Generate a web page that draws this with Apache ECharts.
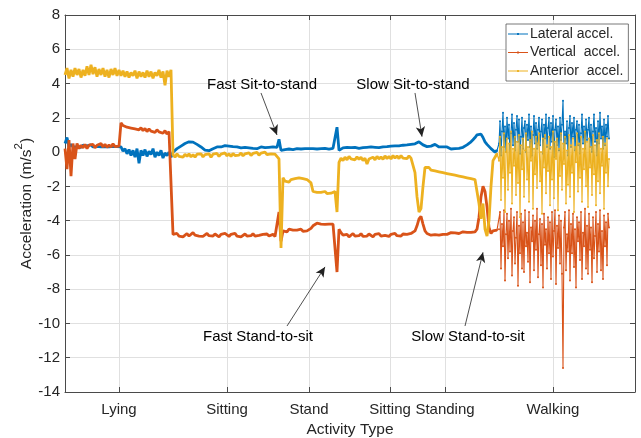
<!DOCTYPE html>
<html><head><meta charset="utf-8">
<script src="https://cdn.jsdelivr.net/npm/echarts@6/dist/echarts.min.js"></script>
<style>html,body{margin:0;padding:0;background:#fff}#c{width:641px;height:438px}</style>
</head><body><div id="c"></div>
<script>
// ---- categories / ticks ----
const activityLabels = ['Lying','Sitting','Stand','Sitting','Standing','Walking'];
const activityTicks = [54, 162, 244, 325, 380, 488];
const yMin = -14, yMax = 8, yInterval = 2;
const seriesNames = ['Lateral accel.', 'Vertical  accel.', 'Anterior  accel.'];
const seriesColors = ['#0072BD', '#D95319', '#EDB120'];

// sample positions: calm part every 2 samples from 0, walking every sample from 434
const calmStep = 2, walkStart = 434, walkStep = 1;

// ---- Lateral accel. ----
const lateralCalm = [
 0.5,0.85,0.3,0.45,0.3,0.4,0.3,0.38,0.28,0.4,0.32,0.36,0.3,0.42,0.3,0.38,0.33,0.4,0.3,0.37,0.32,0.4,0.3,0.38,0.34,0.4,0.32,0.38,
 0.3,0.05,0.2,-0.1,0.15,-0.2,0.1,-0.3,0.2,-0.65,0.1,-0.2,0.15,-0.25,0.05,-0.15,0.2,-0.3,0.0,-0.2,0.1,-0.35,-0.05,-0.2,0.0,-0.3,
 0.0,0.1,0.2,0.3,0.35,0.45,0.5,0.55,0.6,0.62,0.58,0.55,0.45,0.4,0.3,0.2,0.12,0.05,0.08,0.15,
 0.2,0.28,0.3,0.25,0.3,0.35,0.38,0.3,0.35,0.4,0.32,0.36,0.3,0.34,0.25,0.22,0.28,0.2,0.25,0.18,
 0.22,0.28,0.2,0.24,0.3,0.22,0.26,0.2,0.28,0.22,0.3,0.24,0.28,0.75,
 0.1,0.2,0.15,0.25,0.18,0.22,0.15,0.25,0.2,0.28,0.18,0.24,0.2,0.26,0.2,0.25,
 0.2,0.26,0.18,0.25,0.2,0.27,0.22,0.25,0.18,0.26,0.22,0.2,
 1.45,
 0.1,0.2,0.25,0.2,0.28,0.22,0.26,0.2,0.28,0.3,0.22,0.3,0.26,0.2,0.28,0.25,0.3,0.22,0.28,0.32,
 0.26,0.35,0.3,0.38,0.32,0.4,0.35,0.42,0.36,0.3,0.36,0.32,0.4,0.35,0.42,0.38,0.45,0.4,0.48,0.5,
 0.6,0.5,0.42,0.35,0.32,
 0.3,0.35,0.4,0.45,0.38,0.3,0.35,0.3,0.25,0.3,0.22,0.18,0.25,0.2,0.15,0.22,0.2,0.28,0.35,0.42,0.5,0.6,0.72,0.85,1.0,
 1.1,1.05,0.85,0.6,0.45,0.35,0.2,0.1,
 0.0,0.1
];
const lateralWalk = [
 0.5,1.8,-0.2,1.2,2.3,0.3,1.5,0.0,2.0,0.8,
 1.6,-0.3,1.1,2.2,0.4,1.7,0.1,1.3,2.1,0.6,
 1.9,-0.1,0.9,2.0,0.2,1.4,1.8,0.0,1.6,0.7,
 2.2,0.3,1.5,-0.2,1.0,2.1,0.5,1.7,0.2,1.3,
 2.0,0.4,1.2,1.9,-0.1,1.6,0.8,2.2,0.3,1.4,
 2.0,0.2,1.7,0.6,2.1,-0.3,1.3,1.9,0.4,1.5,
 0.1,2.0,0.7,1.6,3.0,0.2,1.2,0.5,1.8,-0.2,
 1.4,2.1,0.3,1.7,0.9,2.0,0.1,1.3,1.8,0.4,
 1.6,-0.1,1.1,2.2,0.5,1.5,0.2,1.9,0.7,1.3,
 2.0,0.3,1.6,0.0,1.2,2.2,0.6,1.4,-0.2,1.8,
 0.5,2.3,0.8,1.5,0.2,1.9,0.4,1.6,0.9,2.1,
 0.8
];

// ---- Vertical accel. ----
const verticalCalm = [
 0.2,-1.0,0.7,-1.4,0.5,-0.4,0.5,0.2,0.4,0.25,0.45,0.2,0.4,0.3,0.45,0.25,0.4,0.3,0.5,0.3,0.45,0.28,0.42,0.3,0.48,0.32,0.4,0.35,
 1.7,1.55,1.65,1.45,1.55,1.4,1.5,1.35,1.45,1.3,1.42,1.25,1.38,1.2,1.35,1.22,1.32,1.15,1.3,1.18,1.28,1.1,1.25,1.05,1.2,1.1,
 -4.8,-4.9,-4.75,-4.9,-4.8,-4.95,-4.85,-4.75,-4.9,-4.8,-4.7,-4.85,-4.75,-4.9,-4.8,-4.92,-4.82,-4.75,-4.88,-4.8,
 -4.9,-4.78,-4.86,-4.95,-4.8,-4.88,-4.75,-4.85,-4.92,-4.8,-4.86,-4.74,-4.9,-4.82,-4.95,-4.85,-4.78,-4.9,-4.82,-4.88,
 -4.76,-4.9,-4.8,-4.86,-4.95,-4.8,-4.88,-4.78,-4.9,-4.84,-4.8,-4.92,-4.85,-3.5,
 -5.2,-4.6,-4.55,-4.65,-4.5,-4.6,-4.55,-4.65,-4.55,-4.6,-4.5,-4.62,-4.55,-4.6,-4.5,-4.45,
 -4.3,-4.2,-4.15,-4.25,-4.2,-4.1,-4.22,-4.15,-4.2,-4.12,-4.2,-4.25,
 -7.0,
 -4.5,-4.7,-4.85,-4.9,-4.8,-4.95,-4.85,-4.75,-4.9,-4.8,-4.88,-4.76,-4.92,-4.82,-4.9,-4.78,-4.85,-4.95,-4.8,-4.88,
 -4.76,-4.9,-4.82,-4.86,-4.78,-4.92,-4.8,-4.85,-4.75,-4.88,-4.8,-4.9,-4.78,-4.85,-4.8,-4.88,-4.75,-4.8,-4.6,-4.3,
 -3.9,-3.75,-4.2,-4.6,-4.75,
 -4.8,-4.85,-4.75,-4.82,-4.78,-4.85,-4.75,-4.8,-4.72,-4.8,-4.75,-4.7,-4.78,-4.72,-4.68,-4.75,-4.7,-4.65,-4.72,-4.68,-4.62,-4.68,-4.6,-4.65,-4.5,
 -3.8,-2.6,-2.0,-2.3,-3.2,-4.4,-4.75,-4.6,
 -4.5,-4.55
];
const verticalWalk = [
 -4.5,-3.5,-6.8,-4.2,-5.5,-3.4,-7.5,-4.8,-3.6,-6.2,
 -4.0,-5.8,-3.3,-7.2,-4.6,-3.8,-6.5,-5.0,-3.5,-7.8,
 -4.3,-5.9,-3.6,-6.8,-4.1,-7.0,-3.4,-5.5,-4.7,-6.4,
 -3.5,-7.6,-4.4,-5.2,-3.7,-6.9,-4.0,-5.7,-3.3,-7.3,
 -4.8,-3.9,-6.6,-4.2,-7.9,-3.6,-5.4,-4.5,-6.8,-3.8,
 -5.9,-4.1,-7.4,-3.5,-6.1,-4.6,-3.4,-7.7,-4.3,-5.6,
 -3.7,-6.5,-4.0,-7.1,-12.6,-4.4,-3.5,-6.9,-4.8,-5.8,
 -3.4,-7.5,-4.2,-5.9,-3.6,-6.7,-4.5,-7.9,-3.8,-5.2,
 -4.1,-6.3,-3.5,-7.4,-4.7,-5.5,-3.3,-6.8,-4.3,-7.1,
 -3.6,-5.7,-4.4,-7.6,-3.8,-6.2,-4.9,-3.5,-7.0,-4.2,
 -5.8,-3.4,-6.9,-4.6,-7.4,-3.7,-5.5,-4.1,-6.6,-3.6,
 -4.4
];

// ---- Anterior accel. ----
const anteriorCalm = [
 4.5,4.9,4.3,4.8,4.4,4.9,4.5,4.85,4.35,4.8,4.45,5.0,4.5,5.1,4.55,4.95,4.4,4.85,4.5,4.9,4.4,4.8,4.35,4.85,4.5,4.9,4.45,4.8,
 4.45,4.75,4.4,4.7,4.35,4.65,4.45,4.75,4.3,4.7,4.4,4.65,4.35,4.75,4.4,4.7,4.3,4.65,4.45,4.8,4.35,4.7,3.9,4.75,4.4,4.8,
 -0.15,-0.3,-0.1,-0.25,-0.15,-0.3,-0.12,-0.25,-0.1,-0.28,-0.15,-0.3,-0.12,-0.22,-0.1,-0.28,-0.15,-0.25,-0.1,-0.3,
 -0.12,-0.22,-0.08,-0.25,-0.12,-0.2,-0.05,-0.22,-0.1,-0.25,-0.08,-0.2,-0.12,-0.18,-0.05,-0.22,-0.1,-0.18,-0.04,-0.2,
 -0.08,-0.15,-0.02,-0.18,-0.06,-0.12,0.0,-0.15,-0.05,-0.1,0.0,-0.12,-0.05,-0.4,
 -5.6,-1.5,-1.7,-1.6,-1.75,-1.6,-1.7,-1.55,-1.65,-1.5,-1.45,-1.55,-1.5,-1.6,-1.7,-1.8,
 -2.3,-2.4,-2.35,-2.45,-2.35,-2.4,-2.3,-2.42,-2.35,-2.4,-2.38,-2.3,
 -3.5,
 -0.6,-0.35,-0.5,-0.3,-0.45,-0.25,-0.4,-0.3,-0.45,-0.28,-0.42,-0.3,-0.5,-0.35,-0.7,-0.4,-0.5,-0.3,-0.45,-0.25,
 -0.4,-0.28,-0.42,-0.22,-0.38,-0.25,-0.4,-0.2,-0.35,-0.22,-0.38,-0.2,-0.35,-0.25,-0.38,-0.22,-0.35,-0.4,-1.2,-2.6,
 -3.5,-3.3,-2.0,-0.9,-0.8,
 -0.9,-1.05,-0.95,-1.1,-1.0,-1.15,-1.05,-1.2,-1.1,-1.25,-1.15,-1.3,-1.2,-1.35,-1.25,-1.4,-1.3,-1.45,-1.35,-1.5,-1.4,-1.55,-1.45,-1.6,-1.7,
 -3.0,-3.9,-3.0,-4.5,-4.9,-4.0,-2.0,-0.5,
 -0.3,-0.1
];
const anteriorWalk = [
 -0.5,0.9,-2.8,0.3,-1.5,1.1,-3.5,0.0,0.8,-2.2,
 0.5,-1.2,1.2,-3.0,0.2,-0.8,0.9,-2.5,0.6,-1.8,
 1.0,-3.8,0.4,-1.0,0.8,-2.6,0.1,1.1,-1.6,0.3,
 -2.9,0.7,-0.5,1.2,-3.3,0.2,-1.3,0.9,-2.1,0.5,
 1.1,-1.7,0.0,-3.6,0.8,-0.9,1.0,-2.4,0.4,-1.1,
 0.9,-3.1,0.3,-1.6,1.2,-2.7,0.6,-0.4,0.8,-3.4,
 0.2,-1.4,1.1,-2.2,0.5,-0.7,0.9,-3.0,0.1,-1.9,
 1.0,-2.6,0.4,-1.2,0.8,-3.5,0.3,-0.6,1.1,-2.3,
 0.5,-1.5,0.9,-2.9,0.2,-1.0,1.2,-2.0,0.6,-3.2,
 0.8,-0.9,0.3,-2.5,1.0,-1.3,0.4,-3.1,0.7,-1.7,
 1.1,-2.4,0.2,-0.8,0.9,-3.3,0.5,-1.2,0.8,-2.0,
 -0.4
];

// ---- annotations (data coordinates) ----
const annotations = [
  { text: 'Fast Sit-to-stand', at: [197, 3.95],  from: [196, 3.45],  to: [212, 1.0] },
  { text: 'Slow Sit-to-stand', at: [348, 3.95],  from: [350, 3.45],  to: [357, 0.9] },
  { text: 'Fast Stand-to-sit', at: [193, -10.8], from: [222, -10.15], to: [260, -6.7] },
  { text: 'Slow Stand-to-sit', at: [403, -10.8], from: [400, -10.15], to: [418, -5.85] }
];

function buildCalm(calm) { return calm.map((v, i) => [i * calmStep, v]); }
function buildWalk(calm, walk) {
  const d = [[(calm.length - 1) * calmStep, calm[calm.length - 1]]];
  walk.forEach((v, j) => d.push([walkStart + j * walkStep, v]));
  return d;
}
const calmSets = [lateralCalm, verticalCalm, anteriorCalm];
const walkSets = [lateralWalk, verticalWalk, anteriorWalk];

const FONT = '"Liberation Sans", Arial, sans-serif';
const axisCol = '#4a4a4a', gridCol = '#e0e0e0', textCol = '#262626';

const chart = echarts.init(document.getElementById('c'), null, { renderer: 'canvas' });

const series = [];
for (let k = 0; k < 3; k++) {
  series.push({
    name: seriesNames[k], type: 'line', data: buildCalm(calmSets[k]),
    symbol: 'circle', symbolSize: 2, showSymbol: false,
    lineStyle: { width: 2.8, color: seriesColors[k] },
    itemStyle: { color: seriesColors[k] },
    emphasis: { disabled: true }, silent: true, animation: false, z: 2 + k
  });
}
for (let k = 0; k < 3; k++) {
  series.push({
    name: seriesNames[k], type: 'line', data: buildWalk(calmSets[k], walkSets[k]),
    symbol: 'circle', symbolSize: 2, showSymbol: true,
    lineStyle: { width: 1.1, color: seriesColors[k] },
    itemStyle: { color: seriesColors[k] },
    emphasis: { disabled: true }, silent: true, animation: false, z: 2 + k
  });
}
series.push({
  name: 'arrows', type: 'line', data: [], silent: true, animation: false, z: 10,
  markLine: {
    silent: true, animation: false, symbol: ['none', 'arrow'], symbolSize: [7, 10],
    label: { show: false },
    lineStyle: { color: '#222', width: 0.8, type: 'solid' },
    data: annotations.map(a => [{ coord: a.from }, { coord: a.to }])
  }
});

chart.setOption({
  animation: false,
  grid: { left: 65, right: 6, top: 15, bottom: 46, containLabel: false, outerBoundsMode: 'none' },
  legend: {
    data: seriesNames, orient: 'vertical', left: 506, top: 24,
    backgroundColor: '#fff', borderColor: '#555', borderWidth: 0.8,
    padding: [3, 5, 3, 2], itemGap: 4.5, itemWidth: 20, itemHeight: 14,
    icon: 'path://M0,6.5H20V7.5H0Z M9.1,6H10.9V8H9.1Z',
    textStyle: { fontFamily: FONT, fontSize: 14, color: textCol, padding: [0, 0, 0, -3] },
    selectedMode: false
  },
  xAxis: [{
    type: 'value', min: 0, max: 570, position: 'bottom',
    name: 'Activity Type', nameLocation: 'middle', nameGap: 30, nameMoveOverlap: false,
    nameTextStyle: { fontFamily: FONT, fontSize: 15.5, color: textCol },
    axisLine: { show: true, onZero: false, lineStyle: { color: axisCol, width: 1 } },
    axisTick: { show: true, inside: true, length: 5, customValues: activityTicks, lineStyle: { color: axisCol } },
    axisLabel: { show: true, customValues: activityTicks, margin: 10,
      formatter: v => activityLabels[activityTicks.indexOf(v)] || '',
      fontFamily: FONT, fontSize: 15, color: textCol },
    splitLine: { show: true, lineStyle: { color: gridCol, width: 1 } }
  }, {
    type: 'value', min: 0, max: 570, position: 'top',
    axisLine: { show: true, onZero: false, lineStyle: { color: axisCol, width: 1 } },
    axisTick: { show: true, inside: true, length: 5, customValues: activityTicks, lineStyle: { color: axisCol } },
    axisLabel: { show: false }, splitLine: { show: false }
  }],
  yAxis: [{
    type: 'value', min: yMin, max: yMax, interval: yInterval, position: 'left',
    name: '{a|Acceleration (m/s}{b|2}{a|)}', nameLocation: 'middle', nameGap: 30, nameRotate: 90,
    nameMoveOverlap: false,
    nameTextStyle: { fontFamily: FONT, fontSize: 15.5, color: textCol,
      rich: {
        a: { fontFamily: FONT, fontSize: 15.5, color: textCol, lineHeight: 22, verticalAlign: 'bottom' },
        b: { fontFamily: FONT, fontSize: 11.5, color: textCol, lineHeight: 22, verticalAlign: 'top' }
      } },
    axisLine: { show: true, onZero: false, lineStyle: { color: axisCol, width: 1 } },
    axisTick: { show: true, inside: true, length: 5, lineStyle: { color: axisCol } },
    axisLabel: { fontFamily: FONT, fontSize: 15, color: textCol, margin: 5 },
    splitLine: { show: true, lineStyle: { color: gridCol, width: 1 } }
  }, {
    type: 'value', min: yMin, max: yMax, interval: yInterval, position: 'right',
    axisLine: { show: true, onZero: false, lineStyle: { color: axisCol, width: 1 } },
    axisTick: { show: true, inside: true, length: 5, lineStyle: { color: axisCol } },
    axisLabel: { show: false }, splitLine: { show: false }
  }],
  series: series
});

// annotation texts placed through the chart's own coordinate conversion
const gfx = annotations.map(a => {
  const p = chart.convertToPixel({ gridIndex: 0 }, a.at);
  return {
    type: 'text', x: p[0], y: p[1], z: 20, silent: true,
    style: { text: a.text, font: '15px ' + FONT, fill: '#000',
      textAlign: 'center', textVerticalAlign: 'middle', align: 'center', verticalAlign: 'middle' }
  };
});
chart.setOption({ graphic: gfx });
</script>
</body></html>
